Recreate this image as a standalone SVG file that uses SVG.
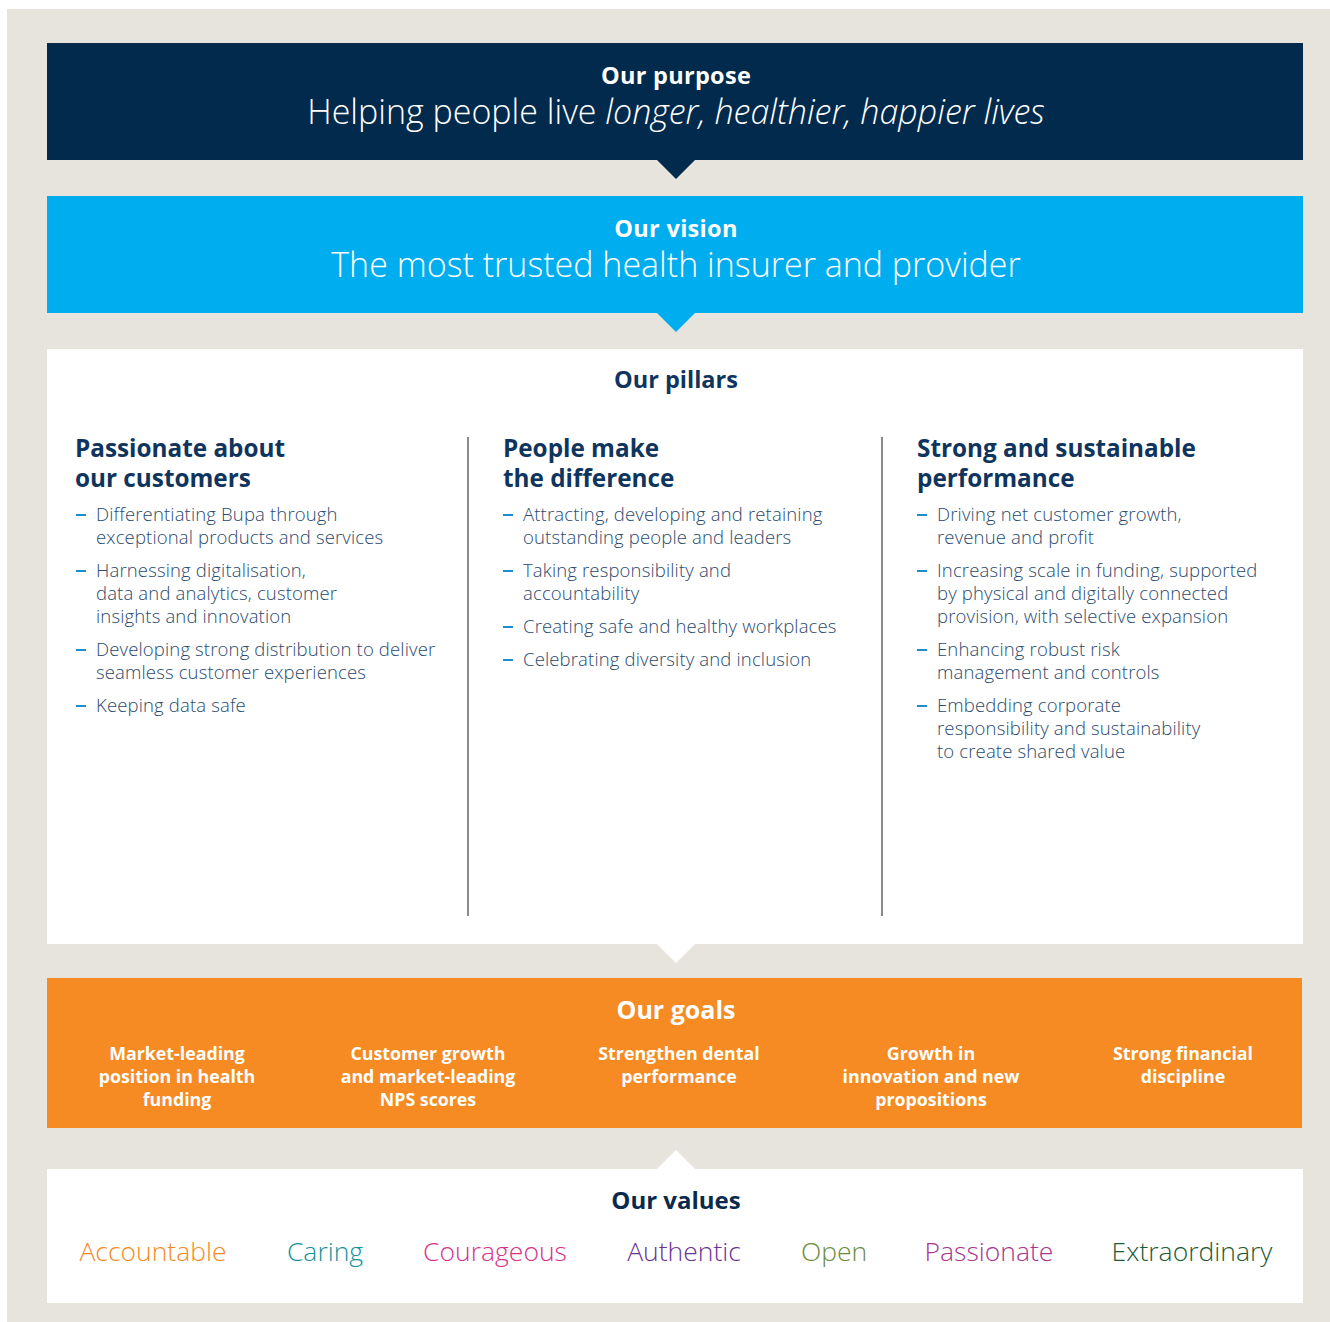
<svg xmlns="http://www.w3.org/2000/svg" width="1330" height="1322" viewBox="0 0 1330 1322">
  <style>
    .title { font-family: "Open Sans", "Noto Sans", "Liberation Sans", sans-serif; font-weight: 700; text-anchor: middle; }
    .lead { font-family: "Open Sans", "Noto Sans", "Liberation Sans", sans-serif; font-weight: 300; font-size: 34px; fill: #ffffff; text-anchor: middle; }
    .head { font-family: "Open Sans", "Noto Sans", "Liberation Sans", sans-serif; font-weight: 700; font-size: 24.3px; fill: #0f355e; }
    .item { font-family: "Open Sans", "Noto Sans", "Liberation Sans", sans-serif; font-weight: 300; font-size: 18.5px; letter-spacing: 0.15px; fill: #2a4a6e; }
    .dash { stroke: #1a8ed1; stroke-width: 2; }
    .goal { font-family: "Open Sans", "Noto Sans", "Liberation Sans", sans-serif; font-weight: 700; font-size: 17.8px; fill: #ffffff; text-anchor: middle; }
    .val { font-family: "Open Sans", "Noto Sans", "Liberation Sans", sans-serif; font-weight: 300; font-size: 26.5px; text-anchor: middle; }
    .rule { stroke: #8a8a8a; stroke-width: 2; }
  </style>

  <!-- page ground -->
  <rect x="0" y="0" width="1330" height="1322" fill="#ffffff"/>
  <rect x="7" y="9" width="1323" height="1313" fill="#e7e4de"/>

  <!-- purpose band -->
  <g id="purpose">
    <rect x="47" y="43" width="1256" height="117" fill="#022a4c"/>
    <text class="title" x="676" y="84" font-size="23.5" letter-spacing="0.3" fill="#ffffff">Our purpose</text>
    <text class="lead" x="676" y="124">Helping people live <tspan font-style="italic">longer, healthier, happier lives</tspan></text>
  </g>

  <!-- vision band -->
  <g id="vision">
    <rect x="47" y="196" width="1256" height="117" fill="#00adee"/>
    <text class="title" x="676" y="237" font-size="23.5" letter-spacing="0.3" fill="#ffffff">Our vision</text>
    <text class="lead" x="676" y="277">The most trusted health insurer and provider</text>
  </g>

  <!-- pillars panel -->
  <g id="pillars">
    <rect x="47" y="349" width="1256" height="595" fill="#ffffff"/>
    <text class="title" x="676" y="388" font-size="23.5" fill="#0f355e">Our pillars</text>
    <line class="rule" x1="468" y1="437" x2="468" y2="916"/>
    <line class="rule" x1="882" y1="437" x2="882" y2="916"/>

    <g id="pillar-customers">
      <text class="head" x="75" y="457">Passionate about</text>
      <text class="head" x="75" y="487">our customers</text>
      <line class="dash" x1="76" y1="515" x2="86" y2="515"/>
      <text class="item" x="96" y="521">Differentiating Bupa through</text>
      <text class="item" x="96" y="544">exceptional products and services</text>
      <line class="dash" x1="76" y1="571" x2="86" y2="571"/>
      <text class="item" x="96" y="577">Harnessing digitalisation,</text>
      <text class="item" x="96" y="600">data and analytics, customer</text>
      <text class="item" x="96" y="623">insights and innovation</text>
      <line class="dash" x1="76" y1="650" x2="86" y2="650"/>
      <text class="item" x="96" y="656">Developing strong distribution to deliver</text>
      <text class="item" x="96" y="679">seamless customer experiences</text>
      <line class="dash" x1="76" y1="706" x2="86" y2="706"/>
      <text class="item" x="96" y="712">Keeping data safe</text>
    </g>

    <g id="pillar-people">
      <text class="head" x="503" y="457">People make</text>
      <text class="head" x="503" y="487">the difference</text>
      <line class="dash" x1="503" y1="515" x2="513" y2="515"/>
      <text class="item" x="523" y="521">Attracting, developing and retaining</text>
      <text class="item" x="523" y="544">outstanding people and leaders</text>
      <line class="dash" x1="503" y1="571" x2="513" y2="571"/>
      <text class="item" x="523" y="577">Taking responsibility and</text>
      <text class="item" x="523" y="600">accountability</text>
      <line class="dash" x1="503" y1="627" x2="513" y2="627"/>
      <text class="item" x="523" y="633">Creating safe and healthy workplaces</text>
      <line class="dash" x1="503" y1="660" x2="513" y2="660"/>
      <text class="item" x="523" y="666">Celebrating diversity and inclusion</text>
    </g>

    <g id="pillar-performance">
      <text class="head" x="917" y="457">Strong and sustainable</text>
      <text class="head" x="917" y="487">performance</text>
      <line class="dash" x1="917" y1="515" x2="927" y2="515"/>
      <text class="item" x="937" y="521">Driving net customer growth,</text>
      <text class="item" x="937" y="544">revenue and profit</text>
      <line class="dash" x1="917" y1="571" x2="927" y2="571"/>
      <text class="item" x="937" y="577">Increasing scale in funding, supported</text>
      <text class="item" x="937" y="600">by physical and digitally connected</text>
      <text class="item" x="937" y="623">provision, with selective expansion</text>
      <line class="dash" x1="917" y1="650" x2="927" y2="650"/>
      <text class="item" x="937" y="656">Enhancing robust risk</text>
      <text class="item" x="937" y="679">management and controls</text>
      <line class="dash" x1="917" y1="706" x2="927" y2="706"/>
      <text class="item" x="937" y="712">Embedding corporate</text>
      <text class="item" x="937" y="735">responsibility and sustainability</text>
      <text class="item" x="937" y="758">to create shared value</text>
    </g>
  </g>

  <!-- goals band -->
  <g id="goals">
    <rect x="47" y="978" width="1255" height="150" fill="#f58b22"/>
    <text class="title" x="676" y="1019" font-size="25" fill="#ffffff">Our goals</text>
    <text class="goal" x="177" y="1060">Market-leading</text>
    <text class="goal" x="177" y="1083">position in health</text>
    <text class="goal" x="177" y="1106">funding</text>
    <text class="goal" x="428" y="1060">Customer growth</text>
    <text class="goal" x="428" y="1083">and market-leading</text>
    <text class="goal" x="428" y="1106">NPS scores</text>
    <text class="goal" x="679" y="1060">Strengthen dental</text>
    <text class="goal" x="679" y="1083">performance</text>
    <text class="goal" x="931" y="1060">Growth in</text>
    <text class="goal" x="931" y="1083">innovation and new</text>
    <text class="goal" x="931" y="1106">propositions</text>
    <text class="goal" x="1183" y="1060">Strong financial</text>
    <text class="goal" x="1183" y="1083">discipline</text>
  </g>

  <!-- values panel -->
  <g id="values">
    <rect x="47" y="1169" width="1256" height="134" fill="#ffffff"/>
    <text class="title" x="676" y="1209" font-size="24" fill="#0a2a4c">Our values</text>
    <text class="val" x="153" y="1261" fill="#f58a1f">Accountable</text>
    <text class="val" x="325" y="1261" fill="#12939a">Caring</text>
    <text class="val" x="495" y="1261" fill="#d8338a">Courageous</text>
    <text class="val" x="684" y="1261" fill="#6a3394">Authentic</text>
    <text class="val" x="834" y="1261" fill="#6b8c3c">Open</text>
    <text class="val" x="989" y="1261" fill="#a8358f">Passionate</text>
    <text class="val" x="1192" y="1261" fill="#1d5a33">Extraordinary</text>
  </g>

  <!-- pointers linking the bands -->
  <g id="connectors">
    <polygon points="657,160 695,160 676,179" fill="#022a4c"/>
    <polygon points="657,313 695,313 676,332" fill="#00adee"/>
    <polygon points="657,944 695,944 676,963" fill="#ffffff"/>
    <polygon points="657,1169 695,1169 676,1150" fill="#ffffff"/>
  </g>
</svg>
